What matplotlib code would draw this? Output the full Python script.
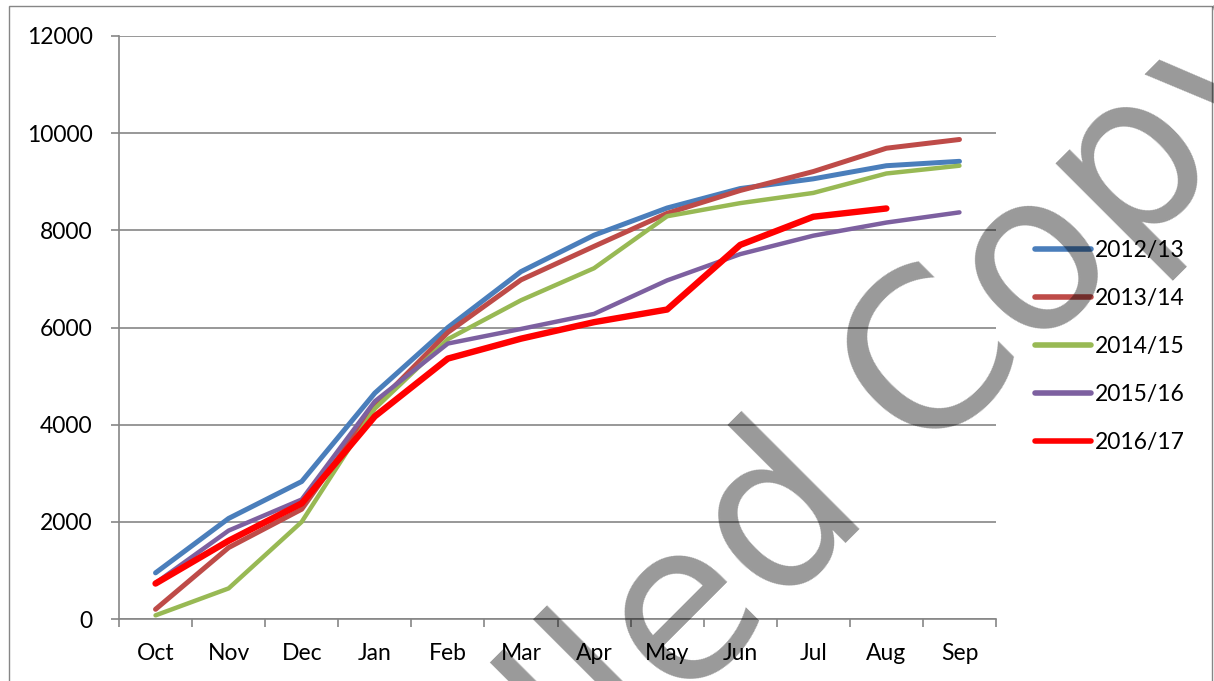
import numpy as np
import matplotlib.pyplot as plt
from matplotlib.patches import Rectangle

# cumulative totals by month, one list per season
months = ["Oct", "Nov", "Dec", "Jan", "Feb", "Mar", "Apr", "May", "Jun", "Jul", "Aug", "Sep"]
s2012_13 = [950, 2070, 2830, 4650, 6000, 7150, 7900, 8460, 8860, 9060, 9330, 9420]
s2013_14 = [200, 1470, 2260, 4380, 5900, 6980, 7670, 8350, 8820, 9210, 9690, 9870]
s2014_15 = [75, 630, 2000, 4330, 5760, 6560, 7220, 8290, 8560, 8770, 9170, 9330]
s2015_16 = [740, 1820, 2460, 4480, 5670, 5970, 6280, 6970, 7510, 7890, 8160, 8370]
s2016_17 = [730, 1610, 2380, 4170, 5360, 5770, 6110, 6370, 7700, 8280, 8450]

series = [
    ("2012/13", s2012_13, "#4A7EBB", 3.6),
    ("2013/14", s2013_14, "#BE4B48", 3.6),
    ("2014/15", s2014_15, "#98B954", 3.2),
    ("2015/16", s2015_16, "#7D60A0", 3.2),
    ("2016/17", s2016_17, "#FF0000", 4.6),
]

plt.rcParams['font.family'] = ['Lato', 'DejaVu Sans']
grid_col = "#868686"

fig = plt.figure(figsize=(12.14, 6.81), dpi=100)
W, H = 1214, 681
ax = fig.add_axes([119 / W, 1 - 619 / H, 877 / W, 583 / H])

x = np.arange(len(months))
for name, vals, col, lw in series:
    ax.plot(x[:len(vals)], vals, color=col, lw=lw, label=name,
            solid_capstyle='round', solid_joinstyle='round')

ax.set_xlim(-0.5, len(months) - 0.5)
ax.set_ylim(0, 12000)
ax.set_yticks(np.arange(0, 12001, 2000))
ax.yaxis.grid(True, color=grid_col, lw=1.2)
ax.set_axisbelow(True)

# category boundaries get tick marks, labels sit between them
ax.set_xticks(np.arange(-0.5, len(months), 1.0))
ax.set_xticklabels([])
ax.set_xticks(x, minor=True)
ax.set_xticklabels(months, minor=True)
ax.tick_params(axis='x', which='major', length=6, width=1.2, color=grid_col)
ax.tick_params(axis='x', which='minor', length=0, pad=17, labelsize=16.5)
ax.tick_params(axis='y', length=6, width=1.2, color=grid_col, pad=13, labelsize=16.5)

for side in ("top", "right"):
    ax.spines[side].set_visible(False)
for side in ("left", "bottom"):
    ax.spines[side].set_color(grid_col)
    ax.spines[side].set_linewidth(1.2)

leg = ax.legend(loc='upper left', bbox_to_anchor=(1035 / W, 1 - 240 / H),
                bbox_transform=fig.transFigure, frameon=False, fontsize=16.5,
                handlelength=2.45, handletextpad=0.15, labelspacing=1.18,
                borderpad=0, borderaxespad=0)
for h in leg.get_lines():
    h.set_linewidth(4.0)
    h.set_solid_capstyle('round')

# chart area border
fig.patches.append(Rectangle((8.5 / W, -0.05), 1203 / W, 1.05 - 6.5 / H,
                             transform=fig.transFigure, fill=False,
                             edgecolor=grid_col, lw=1.0))

# watermark across the chart
fig.text(602 / W, (H - 787) / H, "Uncontrolled Copy", rotation=45,
         rotation_mode='anchor', ha='center', va='baseline',
         fontsize=158, family='DejaVu Sans', color='black', alpha=0.4, zorder=10)

fig.savefig("out.png", dpi=100)
